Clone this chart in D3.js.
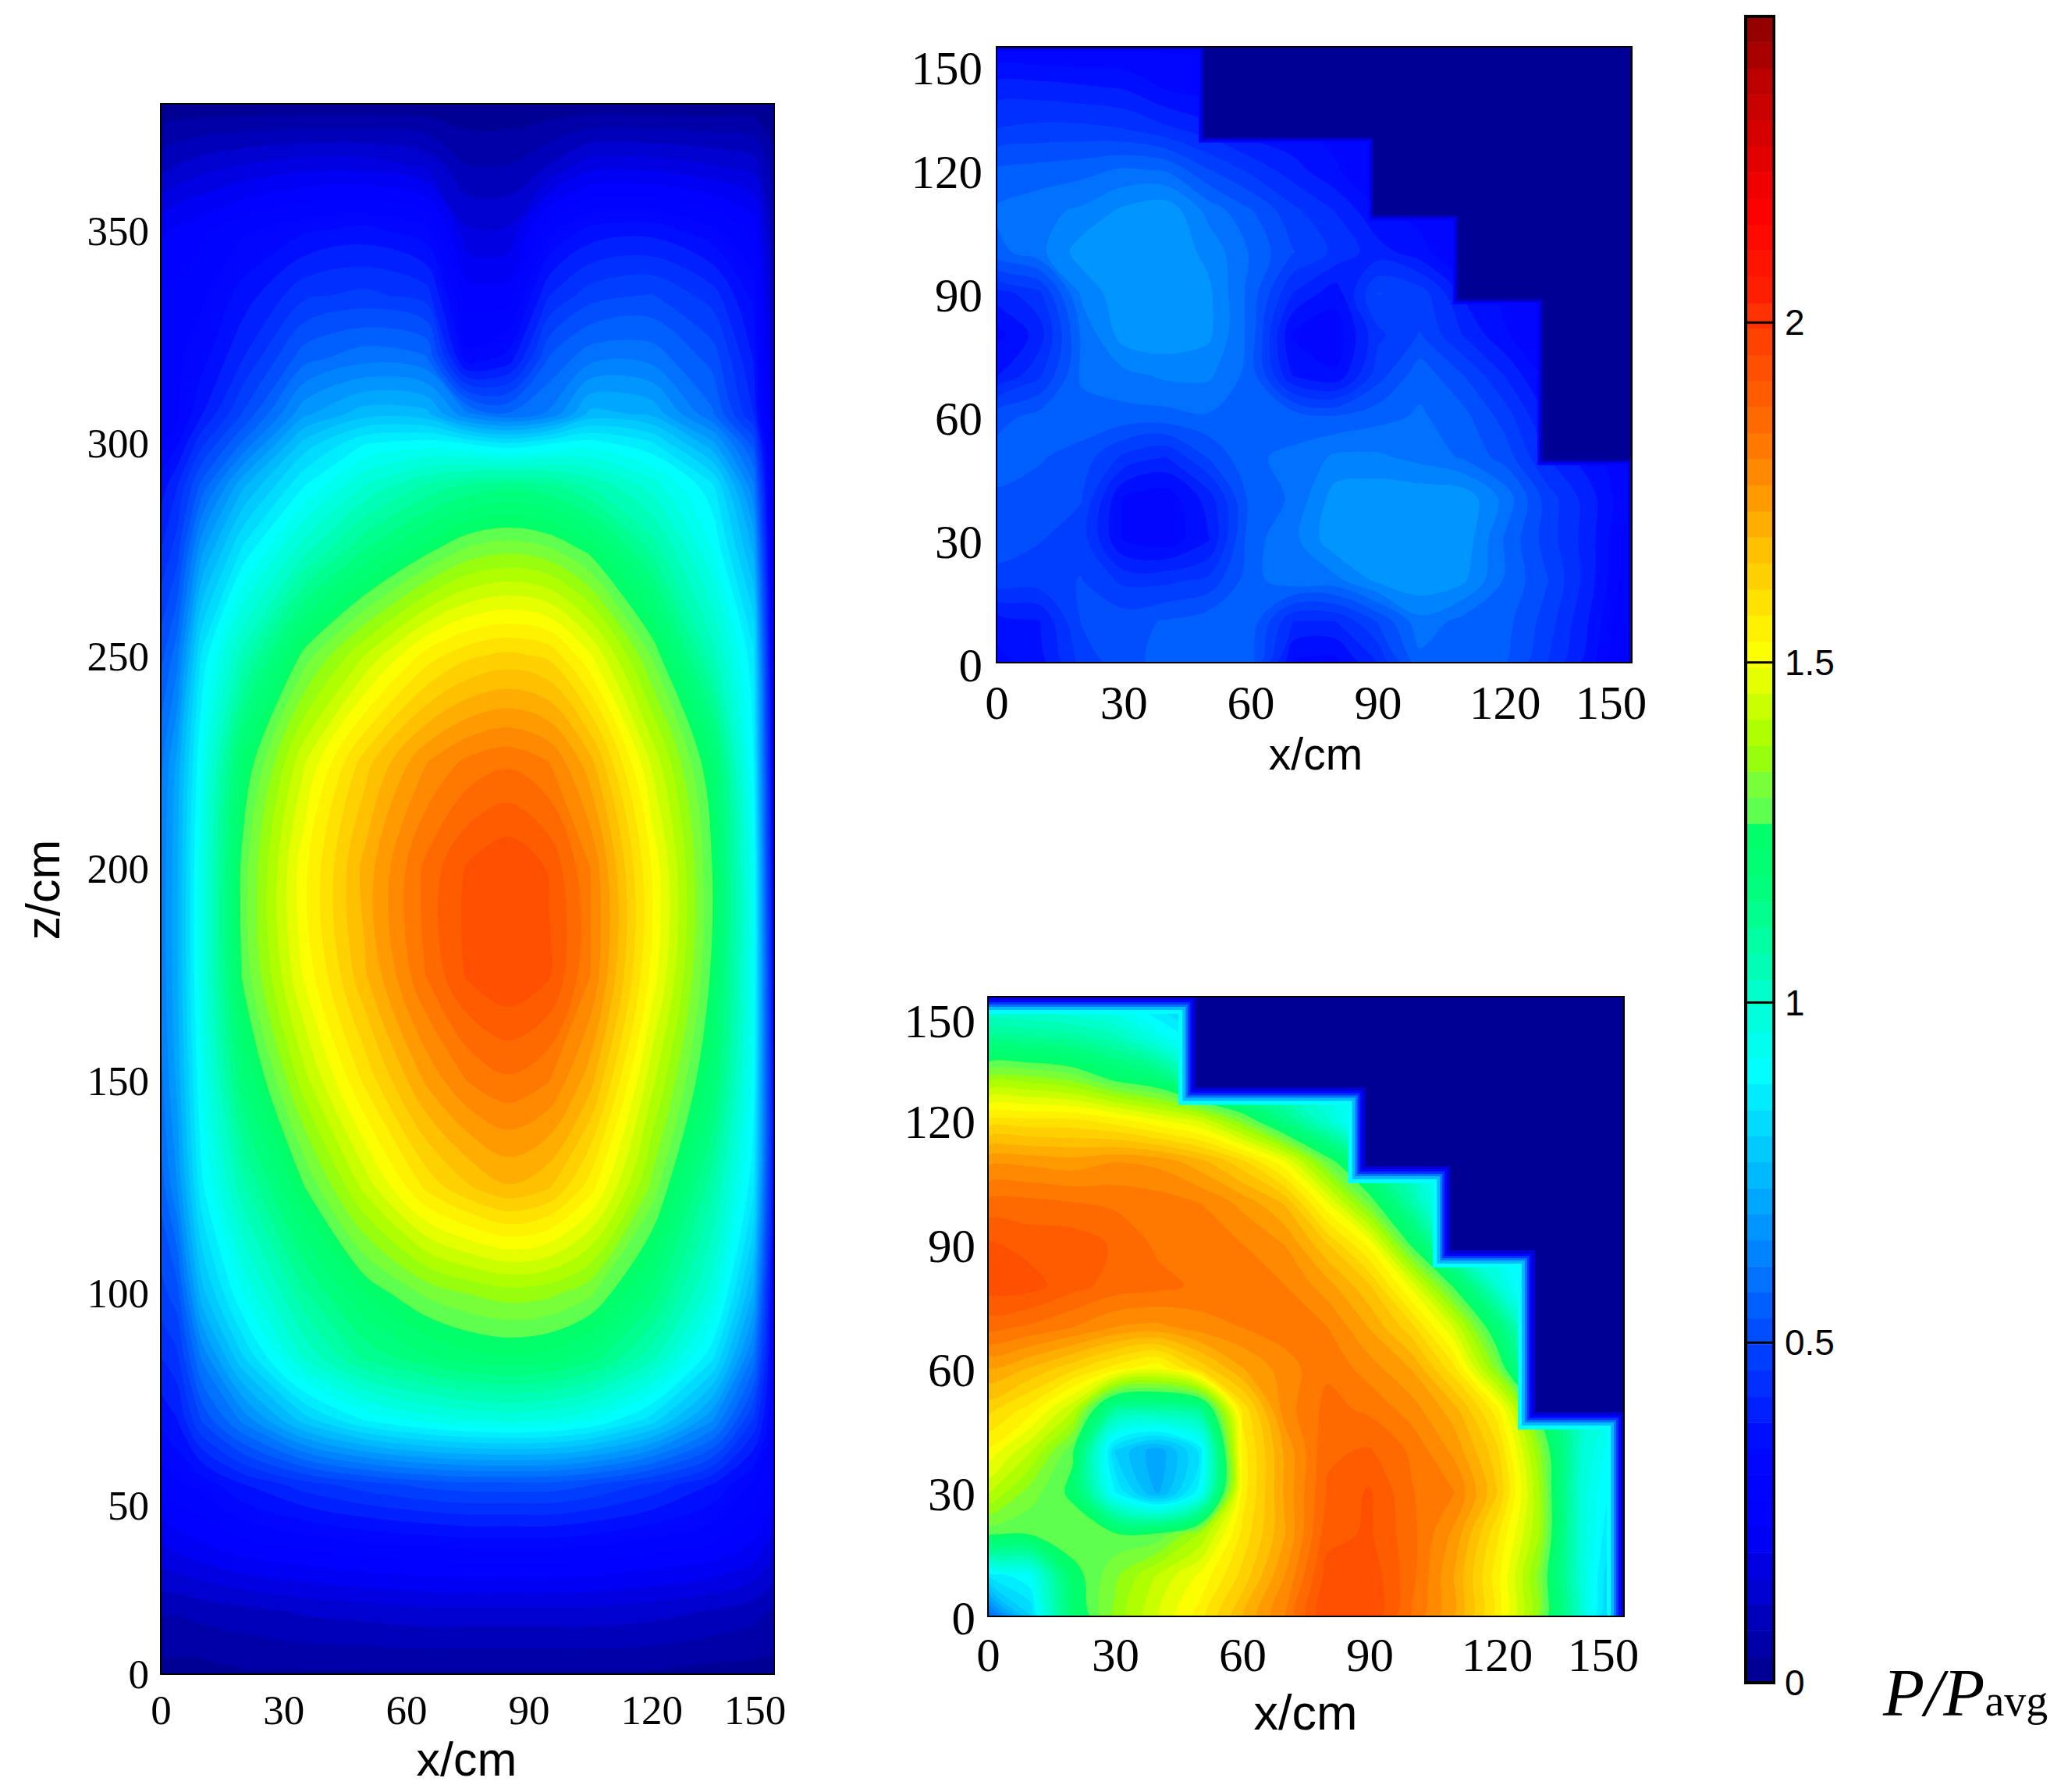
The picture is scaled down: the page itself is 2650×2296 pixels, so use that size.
<!DOCTYPE html>
<html>
<head>
<meta charset="utf-8">
<script src="https://cdn.jsdelivr.net/npm/d3@7"></script>
<style>
  body { margin: 0; background: #fff; }
  .tick text { font-family: "Liberation Serif", serif; fill: #000; }
  .aText { font-family: "Liberation Sans", sans-serif; fill: #000; text-anchor: middle; }
  .barText { font-family: "Liberation Sans", sans-serif; font-size: 46px; fill: #000; }
</style>
</head>
<body>
<div class="plot"></div>
<script>
// Step 1: the values (P/Pavg)

// side view
var sideX = [0, 4, 10, 20, 35, 50, 65, 75, 85, 95, 105, 120, 135, 145, 150];
var sideZ = [10, 25, 40, 55, 70, 85, 100, 125, 150, 175, 200, 225, 250, 275, 290, 300, 307, 320, 335, 350, 365, 380];
var sideValues = [
  [.02,.02,.02,.03,.03,.03,.03,.03,.03,.03,.03,.03,.02,.02,.02],
  [.08,.08,.09,.1,.12,.13,.14,.14,.14,.14,.14,.13,.11,.09,.07],
  [.18,.2,.22,.25,.27,.29,.3,.31,.31,.31,.3,.28,.26,.22,.16],
  [.28,.3,.32,.38,.44,.48,.51,.52,.52,.52,.5,.45,.38,.3,.25],
  [.35,.38,.5,.62,.78,.88,.93,.95,.96,.95,.92,.82,.65,.45,.3],
  [.42,.45,.62,.8,1,1.12,1.18,1.21,1.22,1.21,1.17,1.05,.85,.6,.3],
  [.48,.52,.75,.92,1.1,1.23,1.31,1.34,1.36,1.35,1.31,1.17,.97,.72,.3],
  [.55,.65,.87,1.06,1.26,1.43,1.58,1.64,1.68,1.65,1.55,1.33,1.08,.85,.35],
  [.6,.7,.92,1.18,1.4,1.58,1.73,1.8,1.83,1.8,1.7,1.43,1.2,.9,.35],
  [.62,.72,.95,1.27,1.5,1.68,1.84,1.92,1.95,1.92,1.8,1.52,1.25,.92,.33],
  [.62,.72,.95,1.28,1.52,1.7,1.85,1.92,1.95,1.91,1.8,1.53,1.26,.92,.3],
  [.6,.7,.92,1.22,1.45,1.63,1.76,1.81,1.83,1.8,1.7,1.45,1.22,.88,.28],
  [.52,.6,.85,1.05,1.28,1.42,1.55,1.6,1.62,1.6,1.5,1.3,1.05,.85,.25],
  [.42,.48,.68,.85,1.02,1.15,1.25,1.31,1.33,1.31,1.25,1.1,.92,.72,.22],
  [.36,.42,.55,.72,.88,1,1.08,1.12,1.14,1.12,1.07,.98,.85,.62,.2],
  [.3,.34,.45,.58,.78,.88,.9,.88,.85,.88,.9,.85,.7,.52,.18],
  [.28,.3,.38,.5,.68,.75,.74,.62,.58,.62,.74,.72,.58,.42,.15],
  [.28,.3,.33,.42,.56,.6,.58,.32,.36,.54,.6,.6,.52,.38,.12],
  [.27,.28,.3,.36,.45,.47,.44,.25,.25,.42,.48,.5,.44,.33,.1],
  [.22,.24,.26,.3,.34,.36,.32,.16,.16,.3,.36,.37,.32,.26,.08],
  [.1,.12,.14,.16,.18,.18,.15,.08,.08,.12,.18,.18,.16,.14,.05],
  [.01,.01,.01,.01,.01,.01,.01,.01,.01,.01,.01,.01,.01,.01,.01]
];

// the two core sections share one mesh, rows run from y = 150 down to y = 0
var coreX = [0, 10, 20, 30, 40, 50, 60, 70, 80, 90, 100, 110, 120, 130, 140, 150];
var coreY = [150, 140, 130, 120, 110, 100, 90, 80, 70, 60, 50, 40, 30, 20, 10, 0];
var topValues = [
  [.3,.3,.3,.3,.3,.3,0,0,0,0,0,0,0,0,0,0],
  [.4,.4,.39,.38,.34,.32,0,0,0,0,0,0,0,0,0,0],
  [.46,.47,.47,.46,.43,.4,.36,.35,.33,.3,.3,0,0,0,0,0],
  [.54,.55,.56,.58,.57,.5,.45,.4,.35,.3,.3,0,0,0,0,0],
  [.58,.6,.62,.66,.68,.6,.54,.47,.42,.35,.33,.3,0,0,0,0],
  [.56,.6,.67,.68,.68,.64,.57,.5,.45,.4,.36,.3,0,0,0,0],
  [.4,.45,.62,.68,.68,.66,.56,.42,.36,.5,.48,.38,.33,.3,0,0],
  [.33,.4,.58,.67,.68,.66,.56,.34,.32,.45,.5,.42,.35,.3,0,0],
  [.38,.45,.58,.6,.62,.62,.56,.38,.35,.48,.56,.5,.42,.33,0,0],
  [.52,.55,.56,.56,.56,.57,.57,.56,.54,.56,.58,.55,.48,.38,0,0],
  [.55,.54,.52,.45,.42,.5,.57,.58,.62,.62,.6,.57,.52,.42,.36,.3],
  [.53,.52,.5,.34,.32,.4,.55,.58,.67,.68,.68,.68,.6,.48,.4,.3],
  [.52,.5,.48,.34,.32,.38,.56,.6,.68,.68,.68,.68,.57,.48,.4,.28],
  [.48,.48,.5,.45,.45,.47,.56,.6,.6,.66,.68,.66,.57,.5,.4,.27],
  [.36,.38,.5,.52,.54,.56,.56,.42,.42,.5,.6,.56,.55,.48,.38,.25],
  [.33,.36,.47,.52,.55,.57,.55,.34,.33,.42,.56,.56,.54,.46,.36,.22]
];
var bottomValues = [
  [.92,.92,.9,.88,.8,.7,0,0,0,0,0,0,0,0,0,0],
  [1.12,1.12,1.1,1.05,.95,.85,0,0,0,0,0,0,0,0,0,0],
  [1.36,1.36,1.33,1.25,1.2,1.05,1,.98,.95,.9,.85,0,0,0,0,0],
  [1.58,1.58,1.58,1.55,1.5,1.45,1.32,1.15,1,.85,.8,0,0,0,0,0],
  [1.75,1.75,1.74,1.76,1.75,1.7,1.62,1.5,1.3,1.12,1,.85,0,0,0,0],
  [1.85,1.85,1.84,1.83,1.82,1.8,1.75,1.68,1.5,1.3,1.08,.85,0,0,0,0],
  [1.92,1.9,1.9,1.87,1.83,1.82,1.8,1.76,1.65,1.52,1.25,1,.9,.85,0,0],
  [1.93,1.93,1.89,1.86,1.85,1.83,1.82,1.8,1.74,1.65,1.48,1.25,1,.8,0,0],
  [1.85,1.83,1.8,1.76,1.75,1.78,1.8,1.82,1.8,1.72,1.62,1.45,1.2,.9,0,0],
  [1.72,1.68,1.62,1.55,1.5,1.62,1.72,1.78,1.83,1.78,1.72,1.58,1.33,1,0,0],
  [1.62,1.55,1.42,1.1,1.08,1.12,1.58,1.78,1.85,1.83,1.78,1.7,1.55,1.25,1,.92],
  [1.52,1.42,1.27,.8,.7,.85,1.55,1.73,1.87,1.88,1.83,1.75,1.62,1.35,1,.85],
  [1.42,1.32,1.25,.88,.72,.9,1.55,1.73,1.88,1.92,1.84,1.8,1.65,1.38,.98,.82],
  [1.27,1.27,1.3,1.27,1.27,1.38,1.58,1.72,1.9,1.92,1.85,1.75,1.58,1.38,.98,.78],
  [.85,.92,1.24,1.33,1.42,1.5,1.62,1.76,1.93,1.94,1.85,1.72,1.55,1.33,.98,.72],
  [.55,.8,1.2,1.35,1.45,1.55,1.68,1.8,1.95,1.95,1.83,1.72,1.55,1.33,.98,.65]
];
// stair edge of the core, outside it is empty
var stairX = [0, 49, 49, 89, 89, 109, 109, 129, 129, 150, 150];
var stairY = [150, 150, 128, 128, 109, 109, 88.6, 88.6, 49.4, 49.4, 0];

// axis ticks
var xTicks = [0, 30, 60, 90, 120, 150];
var yTicks = [0, 30, 60, 90, 120, 150];
var zTicks = [10.4, 50, 100, 150, 200, 250, 300, 350];
var zTickLabels = ["0", "50", "100", "150", "200", "250", "300", "350"];
var barTicks = [0, 0.5, 1, 1.5, 2];
var barTickLabels = ["0", "0.5", "1", "1.5", "2"];

// colour map of the legend
var colorStops = [0, .23, .35, .42, .5, .65, .78, .9, 1, 1.155, 1.262, 1.27, 1.33, 1.37, 1.42, 1.48, 1.52, 1.59, 1.67, 1.75, 1.82, 1.9, 1.975, 2.05, 2.16, 2.26, 2.35, 2.45];
var colorValues = ["#00008b", "#0000ff", "#0008ff", "#0028ff", "#0046ff", "#008cff", "#00c8ff", "#00ffff", "#00ffd2", "#00ff80", "#00ff64", "#55ff55", "#80ff32", "#a0ff00", "#beff00", "#ebff00", "#ffff00", "#ffe100", "#ffbe00", "#ff9600", "#ff7800", "#ff5a00", "#ff4100", "#ff1e00", "#ff0000", "#dc0000", "#be0000", "#8b0000"];
var bandCount = 64;

// Step 2: Create an SVG wrapper
var svgWidth = 2650;
var svgHeight = 2296;

var svg = d3.select(".plot")
  .append("svg")
  .attr("width", svgWidth)
  .attr("height", svgHeight)
  .style("display", "block");

var colorScale = d3.scaleLinear().domain(colorStops).range(colorValues);
var bandScale = d3.scaleLinear().domain([0, bandCount]).range([0, 2.45]);
var bands = d3.range(bandCount).map(i => ({ lo: bandScale(i), hi: bandScale(i + 1), color: colorScale(bandScale(i + 0.5)) }));

// Step 3: one contour panel
function drawPanel(p) {
  var x = d3.scaleLinear().domain(p.xDomain).range([p.left, p.right]);
  var y = d3.scaleLinear().domain(p.yDomain).range([p.bottom, p.top]);

  // d3.contours works in mesh cells, so send them through the real node positions
  var indexX = d3.scaleLinear().domain(p.xNodes.map((d, i) => i + 0.5)).range(p.xNodes.map(d => x(d))).clamp(true);
  var indexY = d3.scaleLinear().domain(p.yNodes.map((d, i) => i + 0.5)).range(p.yNodes.map(d => y(d))).clamp(true);
  // round the rings off, the mesh is much coarser than the plot
  var ringLine = d3.line()
    .x(d => indexX(d[0]))
    .y(d => indexY(d[1]))
    .curve(d3.curveCatmullRomClosed.alpha(0.5));
  var contourPath = c => c.coordinates
    .map(poly => poly.map(ring => ringLine(ring.slice(0, -1))).join(""))
    .join("");

  var contours = d3.contours()
    .size([p.xNodes.length, p.yNodes.length])
    .thresholds(bands.map(d => d.lo))
    .smooth(true)(p.values.flat());

  var clipId = "clip" + p.name;
  svg.append("clipPath").attr("id", clipId)
    .append("rect")
    .attr("x", p.left).attr("y", p.top)
    .attr("width", p.right - p.left).attr("height", p.bottom - p.top);

  var chartGroup = svg.append("g").attr("clip-path", `url(#${clipId})`);

  chartGroup.append("rect")
    .attr("x", p.left).attr("y", p.top)
    .attr("width", p.right - p.left).attr("height", p.bottom - p.top)
    .attr("fill", colorScale(0));

  chartGroup.selectAll("path.band")
    .data(contours)
    .enter()
    .append("path")
    .attr("class", "band")
    .attr("d", contourPath)
    .attr("fill-rule", "evenodd")
    .attr("fill", (d, i) => bands[i].color);

  // stair edge with a soft rim, then the empty part on top
  if (p.rim) {
    var stairLine = d3.line().x(d => x(d[0])).y(d => y(d[1]));
    var stair = d3.zip(stairX, stairY);
    p.rim.forEach(function(r) {
      chartGroup.append("path")
        .attr("d", stairLine(stair))
        .attr("fill", "none")
        .attr("stroke", colorScale(r[0]))
        .attr("stroke-width", r[1]);
    });
    chartGroup.append("path")
      .attr("d", stairLine(stair.slice(1, -1).concat([[150, 150]])) + "Z")
      .attr("fill", colorScale(0.02));
  }

  // frame
  svg.append("rect")
    .attr("x", p.left).attr("y", p.top)
    .attr("width", p.right - p.left).attr("height", p.bottom - p.top)
    .attr("fill", "none")
    .attr("stroke", "#000")
    .attr("stroke-width", 2);

  // axes, no tick marks in the picture, labels only
  var bottomAxis = d3.axisBottom(x).tickValues(xTicks).tickSize(0).tickPadding(p.xPad);
  var gx = svg.append("g")
    .attr("transform", `translate(0, ${p.bottom})`)
    .call(bottomAxis);
  gx.select(".domain").remove();
  gx.selectAll("text")
    .style("font-size", p.fontSize + "px")
    .attr("dx", d => d === 150 ? -p.lastXShift : 0);

  var leftAxis = d3.axisLeft(y).tickValues(p.yTicks).tickSize(0).tickPadding(p.yPad);
  if (p.yLabels) leftAxis.tickFormat((d, i) => p.yLabels[i]);
  var gy = svg.append("g")
    .attr("transform", `translate(${p.left}, 0)`)
    .call(leftAxis);
  gy.select(".domain").remove();
  gy.selectAll("text")
    .style("font-size", p.fontSize + "px")
    .attr("dy", (d, i) => (d === 150 && p.lastYShift ? p.lastYShift : 0) + p.fontSize * 0.33 + p.yNudge);

  svg.append("text")
    .attr("class", "aText")
    .attr("x", p.xLabelX)
    .attr("y", p.xLabelY)
    .style("font-size", p.labelSize + "px")
    .text("x/cm");
}

drawPanel({
  name: "Side", left: 206, right: 992, top: 133, bottom: 2145,
  xDomain: [0, 150], yDomain: [10.4, 380],
  xNodes: sideX, yNodes: sideZ, values: sideValues,
  yTicks: zTicks, yLabels: zTickLabels,
  fontSize: 53, xPad: 26, yPad: 15, yNudge: 0, lastXShift: 25, lastYShift: 0,
  labelSize: 61, xLabelX: 598, xLabelY: 2275
});

drawPanel({
  name: "Top", left: 1277, right: 2091, top: 60, bottom: 849,
  xDomain: [0, 150], yDomain: [0, 150],
  xNodes: coreX, yNodes: coreY, values: topValues,
  yTicks: yTicks, rim: [[.3, 14], [.2, 10], [.1, 6]],
  fontSize: 61, xPad: 29, yPad: 18, yNudge: 3, lastXShift: 27, lastYShift: 24,
  labelSize: 57, xLabelX: 1686, xLabelY: 986
});

drawPanel({
  name: "Bottom", left: 1266, right: 2081, top: 1277, bottom: 2071,
  xDomain: [0, 150], yDomain: [0, 150],
  xNodes: coreX, yNodes: coreY, values: bottomValues,
  yTicks: yTicks, rim: [[.9, 44], [.75, 34], [.6, 26], [.45, 20], [.3, 14], [.15, 8]],
  fontSize: 61, xPad: 27, yPad: 16, yNudge: 2, lastXShift: 27, lastYShift: 29,
  labelSize: 63, xLabelX: 1673, xLabelY: 2216
});

svg.append("text")
  .attr("class", "aText")
  .attr("transform", "translate(76, 1140) rotate(-90)")
  .style("font-size", "61px")
  .text("z/cm");

// Step 4: legend bar
var barLeft = 2237;
var barRight = 2273;
var barY = d3.scaleLinear().domain([0, 2.45]).range([2156, 21]);

svg.append("g").selectAll("rect")
  .data(bands)
  .enter()
  .append("rect")
  .attr("x", barLeft)
  .attr("width", barRight - barLeft)
  .attr("y", d => barY(d.hi))
  .attr("height", d => barY(d.lo) - barY(d.hi) + 0.5)
  .attr("fill", d => d.color);

svg.append("g").selectAll("line")
  .data(barTicks.slice(1))
  .enter()
  .append("line")
  .attr("x1", barLeft)
  .attr("x2", barRight)
  .attr("y1", d => barY(d))
  .attr("y2", d => barY(d))
  .attr("stroke", "#000")
  .attr("stroke-width", 3);

svg.append("rect")
  .attr("x", barLeft)
  .attr("y", 21)
  .attr("width", barRight - barLeft)
  .attr("height", 2156 - 21)
  .attr("fill", "none")
  .attr("stroke", "#000")
  .attr("stroke-width", 4);

svg.append("g").selectAll("text")
  .data(barTicks)
  .enter()
  .append("text")
  .attr("class", "barText")
  .attr("x", 2287)
  .attr("y", d => barY(d) + 16)
  .text((d, i) => barTickLabels[i]);

var pLabel = svg.append("text")
  .attr("x", 2413)
  .attr("y", 2198)
  .style("font-family", "'Liberation Serif', serif")
  .style("font-size", "87px");
pLabel.append("tspan").style("font-style", "italic").text("P/P");
pLabel.append("tspan").style("font-size", "56px").text("avg");
</script>
</body>
</html>
